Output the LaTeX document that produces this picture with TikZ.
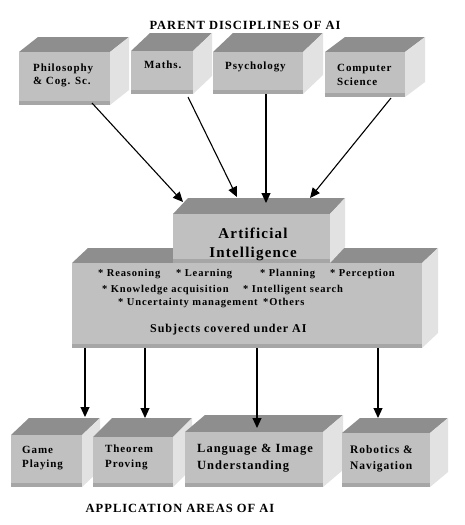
\documentclass[tikz,border=0pt]{standalone}
\usepackage{fontspec}
\setmainfont{Liberation Serif}[LetterSpace=8]
\usetikzlibrary{arrows.meta,calc}
\definecolor{frontc}{HTML}{C0C0C0}
\definecolor{topc}{HTML}{8E8E8E}
\definecolor{sidec}{HTML}{E2E2E2}
\definecolor{bandc}{HTML}{A6A6A6}
\newcommand\cubebox[7]{%
  \fill[topc] (#2,#3) -- (#2+#6,#3-#7) -- (#4+#6,#3-#7) -- (#4,#3) -- cycle;
  \fill[sidec] (#4,#3) -- (#4+#6,#3-#7) -- (#4+#6,#5-#7) -- (#4,#5) -- cycle;
  \node[frontface, minimum width={(#4-#2)*1pt}, minimum height={(#5-#3)*1pt}, anchor=north west] (#1) at (#2,#3) {};
  \fill[bandc] (#2,#5-4) rectangle (#4,#5);
}
\begin{document}
\begin{tikzpicture}[x=1pt,y=-1pt,
  frontface/.style={fill=frontc, inner sep=0pt, outer sep=0pt},
  lbl/.style={anchor=base west, inner sep=0pt, font=\bfseries\fontsize{11}{13}\selectfont},
  item/.style={anchor=base west, inner sep=0pt, font=\bfseries\fontsize{10.5}{12}\selectfont},
  ttl/.style={anchor=base, inner sep=0pt, font=\bfseries\fontsize{12.5}{14}\selectfont},
  arr/.style={line width=1.1pt, -{Triangle[width=9pt,length=10pt]}}]
\useasboundingbox (0,0) rectangle (465,525);
\fill[white] (0,0) rectangle (465,525);

% title
\node[ttl] (title) at (245,29) {PARENT DISCIPLINES OF AI};

% top boxes
\cubebox{phil}{19}{52}{110}{105}{19}{15}
\cubebox{maths}{131}{51}{193}{94}{19}{18}
\cubebox{psych}{213}{52}{303}{94}{20}{19}
\cubebox{cs}{325}{52}{405}{97}{20}{15}
\node[lbl] (philt1) at (33,71) {Philosophy};
\node[lbl] (philt2) at (33,84) {\& Cog. Sc.};
\node[lbl] (mathst) at (144,68) {Maths.};
\node[lbl] (psycht) at (225,69) {Psychology};
\node[lbl] (cst1) at (337,71) {Computer};
\node[lbl] (cst2) at (337,85) {Science};

% lower (subjects) box and AI box
\cubebox{subj}{72}{263}{422}{348}{16}{15}
\cubebox{ai}{173}{214}{330}{263}{15}{16}
\node[anchor=base, inner sep=0pt, font=\bfseries\fontsize{15}{17}\selectfont] (ait1) at (253,238) {Artificial};
\node[anchor=base, inner sep=0pt, font=\bfseries\fontsize{15}{17}\selectfont] (ait2) at (253,257) {Intelligence};

\node[item] (s1) at (98,276) {* Reasoning};
\node[item] (s2) at (176,276) {* Learning};
\node[item] (s3) at (260,276) {* Planning};
\node[item] (s4) at (330,276) {* Perception};
\node[item] (s5) at (102,292) {* Knowledge acquisition};
\node[item] (s6) at (243,292) {* Intelligent search};
\node[item] (s7) at (118,305) {* Uncertainty management};
\node[item] (s8) at (263,305) {*Others};
\node[anchor=base west, inner sep=0pt, font=\bfseries\fontsize{12}{14}\selectfont] (subjt) at (150,332) {Subjects covered under AI};

% top arrows
\draw[arr] ([xshift=73pt,yshift=2pt]phil.south west) -- ([xshift=10pt,yshift=12pt]ai.north west);
\draw[arr] ([xshift=57pt,yshift=-3pt]maths.south west) -- ([xshift=64pt,yshift=17pt]ai.north west);
\draw[arr] ([xshift=53pt]psych.south west) -- ([xshift=93pt,yshift=11pt]ai.north west);
\draw[arr] ([xshift=66pt,yshift=-1pt]cs.south west) -- ([xshift=137pt,yshift=16pt]ai.north west);

% bottom boxes
\cubebox{game}{11}{435}{82}{487}{18}{17}
\cubebox{theo}{93}{437}{173}{487}{19}{19}
\cubebox{lang}{185}{432}{323}{487}{20}{17}
\cubebox{robo}{342}{433}{430}{487}{18}{15}
\node[lbl] (gamet1) at (22,453) {Game};
\node[lbl] (gamet2) at (22,467) {Playing};
\node[lbl] (theot1) at (105,452) {Theorem};
\node[lbl] (theot2) at (105,467) {Proving};
\node[lbl, font=\bfseries\fontsize{12.5}{14}\selectfont] (langt1) at (197,452) {Language \& Image};
\node[lbl, font=\bfseries\fontsize{12.5}{14}\selectfont] (langt2) at (197,469) {Understanding};
\node[lbl, font=\bfseries\fontsize{11.5}{13}\selectfont] (robot1) at (350,453) {Robotics \&};
\node[lbl, font=\bfseries\fontsize{11.5}{13}\selectfont] (robot2) at (350,469) {Navigation};

% bottom arrows
\draw[arr] ([xshift=13pt]subj.south west) -- ([xshift=74pt,yshift=18pt]game.north west);
\draw[arr] ([xshift=73pt]subj.south west) -- ([xshift=52pt,yshift=19pt]theo.north west);
\draw[arr] ([xshift=185pt]subj.south west) -- ([xshift=72pt,yshift=4pt]lang.north west);
\draw[arr] ([xshift=306pt]subj.south west) -- ([xshift=36pt,yshift=15pt]robo.north west);

\node[ttl] (apptitle) at (180,512) {APPLICATION AREAS OF AI};
\end{tikzpicture}
\end{document}
